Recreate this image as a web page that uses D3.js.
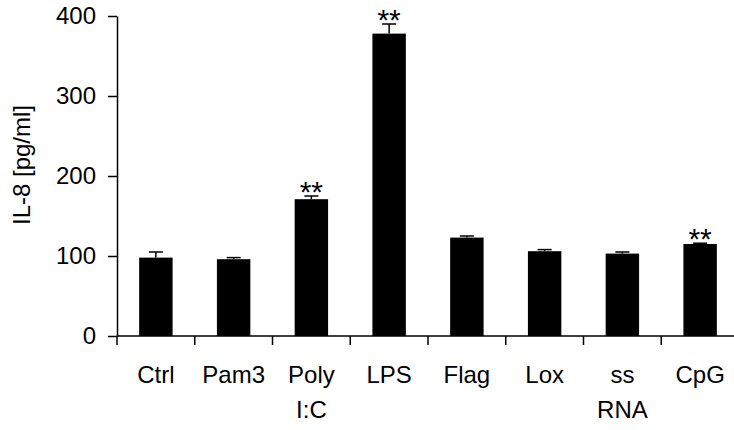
<!DOCTYPE html>
<html>
<head>
<meta charset="utf-8">
<script src="https://cdn.jsdelivr.net/npm/d3@7"></script>
<style>
  body { margin: 0; background: #fff; }
  svg { display: block; }
  text { font-family: "Liberation Sans", Arial, sans-serif; fill: #000; }
</style>
</head>
<body>
<script>

const labels = [["Ctrl"], ["Pam3"], ["Poly", "I:C"], ["LPS"], ["Flag"], ["Lox"], ["ss", "RNA"], ["CpG"]];
const values = [98, 96, 171, 378, 123, 106, 103, 115];
const errors = [7, 2, 4, 12, 2, 2, 2, 1];
const stars = ["", "", "**", "**", "", "", "", "**"];
const yTicks = [0, 100, 200, 300, 400];

const width = 734,
      height = 430;

const svg = d3.select("body").append("svg")
    .attr("width", width)
    .attr("height", height);

const x = d3.scaleBand()
    .domain(d3.range(labels.length))
    .range([117, 739])
    .paddingInner(0.57)
    .paddingOuter(0.285);

const y = d3.scaleLinear()
    .domain([0, 400])
    .range([336, 16]);

// bars
svg.selectAll("rect.bar")
    .data(values)
    .join("rect")
    .attr("class", "bar")
    .attr("x", (d, i) => x(i))
    .attr("y", d => y(d))
    .attr("width", x.bandwidth())
    .attr("height", d => y(0) - y(d))
    .attr("fill", "#000");

// error bars, only upwards
const err = svg.append("g")
    .attr("stroke", "#000")
    .attr("stroke-width", 1.5);

values.forEach((v, i) => {
  const cx = x(i) + x.bandwidth() / 2;
  err.append("line")
      .attr("x1", cx).attr("x2", cx)
      .attr("y1", y(v)).attr("y2", y(v + errors[i]));
  err.append("line")
      .attr("x1", cx - 7).attr("x2", cx + 7)
      .attr("y1", y(v + errors[i])).attr("y2", y(v + errors[i]));
});

svg.selectAll("text.star")
    .data(stars)
    .join("text")
    .attr("class", "star")
    .attr("x", (d, i) => x(i) + x.bandwidth() / 2)
    .attr("y", (d, i) => y(values[i] + errors[i]) + 6)
    .attr("text-anchor", "middle")
    .style("font-size", "30px")
    .text(d => d);

// y axis
const yAxis = svg.append("g")
    .attr("transform", "translate(117,0)")
    .call(d3.axisLeft(y).tickValues(yTicks).tickSize(9).tickPadding(12).tickSizeOuter(0));

yAxis.select(".domain").attr("stroke-width", 1.5);
yAxis.selectAll(".tick line").attr("stroke-width", 1.5);
yAxis.selectAll(".tick text")
    .style("font-size", "24px")
    .style("font-family", "'Liberation Sans', Arial, sans-serif");

// x axis with ticks between categories
const xAxisG = svg.append("g");
xAxisG.append("line")
    .attr("x1", 117).attr("x2", width)
    .attr("y1", y(0)).attr("y2", y(0))
    .attr("stroke", "#000")
    .attr("stroke-width", 1.5);

xAxisG.selectAll("line.xt")
    .data(d3.range(labels.length))
    .join("line")
    .attr("class", "xt")
    .attr("x1", i => x(i) - x.step() * x.paddingInner() / 2)
    .attr("x2", i => x(i) - x.step() * x.paddingInner() / 2)
    .attr("y1", y(0))
    .attr("y2", y(0) + 9)
    .attr("stroke", "#000")
    .attr("stroke-width", 1.5);

const xl = svg.selectAll("text.xl")
    .data(labels)
    .join("text")
    .attr("class", "xl")
    .attr("text-anchor", "middle")
    .attr("transform", (d, i) => `translate(${x(i) + x.bandwidth() / 2},383)`)
    .style("font-size", "24px");

xl.selectAll("tspan")
    .data(d => d)
    .join("tspan")
    .attr("x", 0)
    .attr("y", (d, j) => j * 35)
    .text(d => d);

svg.append("text")
    .attr("transform", "translate(30,165) rotate(-90)")
    .attr("text-anchor", "middle")
    .style("font-size", "24px")
    .text("IL-8 [pg/ml]");

</script>
</body>
</html>
